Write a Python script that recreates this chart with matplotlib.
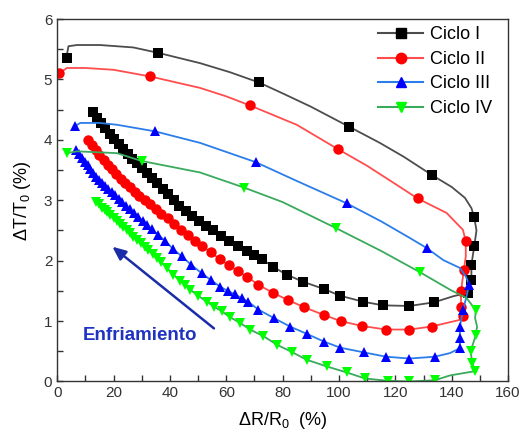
import matplotlib
matplotlib.use("Agg")
import matplotlib.pyplot as plt
from matplotlib.lines import Line2D
from matplotlib.ticker import MultipleLocator

plt.rcParams["font.family"] = ["Liberation Sans", "DejaVu Sans"]
plt.rcParams["mathtext.default"] = "regular"

### data
labels = ["Ciclo I", "Ciclo II", "Ciclo III", "Ciclo IV"]

# Ciclo I - cooling branch (dense markers), left -> right
c1_low_x = [12.6, 14.0, 15.5, 17.0, 18.6, 20.2, 21.8, 23.4, 25.0, 26.7, 28.4, 30.1,
            31.9, 33.7, 35.5, 37.4, 39.3, 41.3, 43.4, 45.6, 47.9, 50.3, 52.8, 55.4,
            58.2, 61.1, 64.2, 67.4, 70.0, 72.6, 76.5, 81.4, 87.3, 94.7, 100.4, 108.6,
            115.7, 125.0, 133.7]
c1_low_y = [4.46, 4.37, 4.28, 4.19, 4.10, 4.01, 3.93, 3.85, 3.77, 3.69, 3.61, 3.53,
            3.45, 3.37, 3.28, 3.19, 3.10, 3.00, 2.91, 2.82, 2.74, 2.66, 2.58, 2.50,
            2.41, 2.32, 2.24, 2.16, 2.09, 2.03, 1.90, 1.77, 1.65, 1.53, 1.42, 1.32,
            1.26, 1.25, 1.31]
# Ciclo I - heating branch (line), right -> left
c1_up_x = [140.5, 145.7, 147.0, 147.0, 148.0, 148.8, 148.0, 147.0, 144.7, 140.0, 132.9,
           123.0, 114.5, 103.5, 90.0, 80.0, 71.6, 61.3, 50.7, 35.9, 27.0, 15.2, 7.0,
           4.0, 3.6, 3.4]
c1_up_y = [1.41, 1.47, 1.68, 1.93, 2.24, 2.50, 2.72, 2.87, 3.04, 3.22, 3.42,
           3.72, 3.95, 4.22, 4.55, 4.77, 4.95, 5.12, 5.27, 5.44, 5.53, 5.57, 5.57,
           5.55, 5.45, 5.36]
c1_mk_x = [3.4, 35.9, 71.6, 103.5, 132.9, 148.0, 148.0, 147.0, 147.0, 145.7]
c1_mk_y = [5.36, 5.44, 4.95, 4.22, 3.42, 2.72, 2.24, 1.93, 1.68, 1.47]

# Ciclo II
c2_low_x = [10.8, 12.2, 13.6, 15.0, 16.5, 18.0, 19.5, 21.0, 22.6, 24.2, 25.8, 27.5,
            29.2, 31.0, 33.0, 35.0, 37.0, 39.2, 41.5, 44.0, 46.5, 49.0, 51.5, 54.5,
            57.8, 61.0, 64.0, 67.5, 71.4, 76.5, 81.8, 87.6, 94.7, 100.6, 108.0, 116.7,
            125.0, 132.9]
c2_low_y = [4.00, 3.91, 3.83, 3.75, 3.67, 3.59, 3.51, 3.43, 3.36, 3.29, 3.22, 3.14,
            3.07, 3.00, 2.93, 2.86, 2.78, 2.70, 2.61, 2.51, 2.42, 2.33, 2.24, 2.14,
            2.02, 1.92, 1.83, 1.73, 1.60, 1.47, 1.35, 1.23, 1.10, 1.00, 0.92, 0.86,
            0.86, 0.91]
c2_up_x = [142.9, 144.0, 143.3, 143.3, 144.3, 145.0, 145.0, 144.0, 138.2, 127.9, 118.0,
           110.0, 99.5, 85.0, 68.4, 60.0, 50.7, 33.0, 20.0, 10.0, 3.4, 0.8]
c2_up_y = [1.02, 1.08, 1.24, 1.49, 1.84, 2.07, 2.32, 2.51, 2.79, 3.03, 3.33,
           3.57, 3.85, 4.25, 4.57, 4.72, 4.86, 5.05, 5.16, 5.19, 5.19, 5.10]
c2_mk_x = [0.8, 33.0, 68.4, 99.5, 127.9, 145.0, 144.3, 143.3, 143.3, 144.0]
c2_mk_y = [5.10, 5.05, 4.57, 3.85, 3.03, 2.32, 1.84, 1.49, 1.24, 1.08]

# Ciclo III
c3_low_x = [6.8, 7.8, 8.8, 9.8, 10.8, 11.8, 12.8, 13.8, 14.8, 15.9, 17.0, 18.1,
            19.3, 20.5, 21.8, 23.1, 24.4, 25.8, 27.3, 28.8, 30.4, 32.0, 33.6, 35.8,
            38.3, 41.0, 44.2, 47.6, 51.3, 54.5, 57.8, 60.5, 63.1, 65.5, 67.8, 71.4,
            76.9, 82.6, 88.5, 94.7, 100.4, 109.0, 116.7, 125.0, 134.0]
c3_low_y = [3.83, 3.77, 3.70, 3.64, 3.58, 3.52, 3.45, 3.39, 3.33, 3.28, 3.23, 3.18,
            3.13, 3.08, 3.02, 2.97, 2.91, 2.85, 2.79, 2.73, 2.66, 2.59, 2.52, 2.43,
            2.33, 2.20, 2.07, 1.93, 1.79, 1.68, 1.57, 1.50, 1.44, 1.38, 1.32, 1.19,
            1.05, 0.91, 0.79, 0.66, 0.56, 0.48, 0.41, 0.38, 0.41]
c3_up_x = [139.4, 142.9, 142.9, 142.9, 144.1, 145.2, 146.2, 145.0, 142.9, 137.0, 131.1,
           125.0, 115.0, 102.7, 85.0, 70.5, 60.0, 50.7, 34.8, 21.2, 15.0, 8.2, 6.4]
c3_up_y = [0.47, 0.55, 0.72, 0.91, 1.19, 1.40, 1.60, 1.74, 1.88, 2.01, 2.21,
           2.38, 2.65, 2.95, 3.32, 3.63, 3.80, 3.95, 4.14, 4.25, 4.28, 4.28, 4.23]
c3_mk_x = [6.4, 34.8, 70.5, 102.7, 131.1, 146.2, 144.1, 142.9, 142.9, 142.9]
c3_mk_y = [4.23, 4.14, 3.63, 2.95, 2.21, 1.60, 1.19, 0.91, 0.72, 0.55]

# Ciclo IV
c4_low_x = [13.8, 14.8, 15.8, 16.8, 17.8, 18.9, 20.0, 21.1, 22.2, 23.4, 24.6, 25.8,
            27.0, 28.3, 29.6, 31.0, 32.4, 33.9, 35.4, 37.0, 39.0, 41.2, 43.5, 45.5,
            47.2, 50.0, 53.1, 55.7, 58.4, 61.5, 64.9, 68.4, 73.2, 77.9, 83.2, 88.5,
            95.6, 102.7, 109.2, 117.5, 125.0, 134.0]
c4_low_y = [2.97, 2.93, 2.88, 2.84, 2.80, 2.75, 2.70, 2.66, 2.61, 2.56, 2.51, 2.46,
            2.40, 2.35, 2.29, 2.23, 2.17, 2.11, 2.04, 1.97, 1.88, 1.77, 1.67, 1.59,
            1.52, 1.42, 1.32, 1.24, 1.16, 1.06, 0.97, 0.86, 0.75, 0.61, 0.49, 0.36,
            0.25, 0.15, 0.05, 0.01, 0.00, 0.02]
c4_up_x = [139.4, 148.2, 147.3, 146.7, 148.6, 149.0, 148.3, 148.6, 147.6, 145.3, 139.4,
           128.7, 115.0, 98.9, 80.0, 66.3, 50.7, 30.0, 21.2, 7.0, 3.4]
c4_up_y = [0.10, 0.17, 0.31, 0.50, 0.77, 0.91, 1.05, 1.19, 1.24, 1.38, 1.52,
           1.81, 2.16, 2.54, 2.97, 3.21, 3.46, 3.65, 3.78, 3.81, 3.78]
c4_mk_x = [3.4, 30.0, 66.3, 98.9, 128.7, 148.6, 148.6, 146.7, 147.3, 148.2]
c4_mk_y = [3.78, 3.65, 3.21, 2.54, 1.81, 1.19, 0.77, 0.50, 0.31, 0.17]

### style
line_colors = ["#4d4d4d", "#ff4d4d", "#2b7de9", "#3aaa5c"]
mk_colors = ["black", "red", "blue", "#00ff00"]
markers = ["s", "o", "^", "v"]
msizes = [6.5, 7.5, 7.5, 7.5]

fig = plt.figure(figsize=(5.2, 4.33), dpi=100)
ax = fig.add_axes([0.110, 0.119, 0.867, 0.837])

cycles = [
    (c1_low_x, c1_low_y, c1_up_x, c1_up_y, c1_mk_x, c1_mk_y),
    (c2_low_x, c2_low_y, c2_up_x, c2_up_y, c2_mk_x, c2_mk_y),
    (c3_low_x, c3_low_y, c3_up_x, c3_up_y, c3_mk_x, c3_mk_y),
    (c4_low_x, c4_low_y, c4_up_x, c4_up_y, c4_mk_x, c4_mk_y),
]

handles = []
for i, (lx, ly, ux, uy, mx, my) in enumerate(cycles):
    ax.plot(lx + ux, ly + uy, "-", color=line_colors[i], lw=1.3)
    ax.plot(lx, ly, markers[i], color=mk_colors[i], ms=msizes[i], mew=0)
    ax.plot(mx, my, markers[i], color=mk_colors[i], ms=msizes[i], mew=0)
    handles.append(Line2D([], [], color=line_colors[i], lw=1.5, marker=markers[i],
                          mfc=mk_colors[i], mec=mk_colors[i], ms=msizes[i]))

ax.legend(handles, labels, loc="upper right", bbox_to_anchor=(1.0, 1.025),
          frameon=False, fontsize=13, handlelength=2.5, labelspacing=0.42,
          handletextpad=0.35)

# cooling arrow
ax.annotate("", xy=(18.8, 2.26), xytext=(56.4, 0.85),
            arrowprops=dict(arrowstyle="-|>,head_length=0.8,head_width=0.35",
                            color="#1a2ca8", lw=1.8))
ax.text(8.9, 0.76, "Enfriamiento", color="#1f33c0", fontsize=13.5,
        fontweight="bold", va="center", ha="left")

ax.set_xlim(0, 160)
ax.set_ylim(0, 6)
ax.xaxis.set_major_locator(MultipleLocator(20))
ax.xaxis.set_minor_locator(MultipleLocator(10))
ax.yaxis.set_major_locator(MultipleLocator(1))
ax.yaxis.set_minor_locator(MultipleLocator(0.5))
ax.tick_params(which="both", direction="in", length=4, width=1,
               colors="#333333", labelsize=11)
for s in ax.spines.values():
    s.set_color("#333333")
    s.set_linewidth(1.0)

ax.set_xlabel(r"$\Delta$R/R$_0$  (%)", fontsize=13, labelpad=7)
ax.set_ylabel(r"$\Delta$T/T$_0$ (%)", fontsize=13, labelpad=8)

fig.savefig("out.png", dpi=100)
